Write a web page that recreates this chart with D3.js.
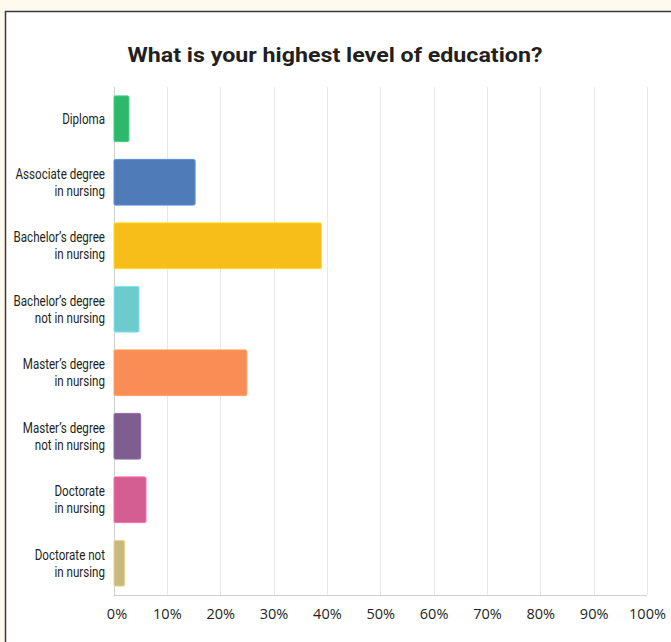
<!DOCTYPE html>
<html>
<head>
<meta charset="utf-8">
<script src="https://cdn.jsdelivr.net/npm/d3@7"></script>
<style>
  html, body { margin: 0; padding: 0; background: #fff9ee; }
  svg { display: block; }
</style>
</head>
<body>
<svg id="chart" width="671" height="642"></svg>
<script>
const categories = [
  ["Diploma"],
  ["Associate degree", "in nursing"],
  ["Bachelor\u2019s degree", "in nursing"],
  ["Bachelor\u2019s degree", "not in nursing"],
  ["Master\u2019s degree", "in nursing"],
  ["Master\u2019s degree", "not in nursing"],
  ["Doctorate", "in nursing"],
  ["Doctorate not", "in nursing"]
];
const values = [2.8, 15.2, 38.9, 4.7, 24.9, 5.0, 6.0, 2.0];
const colors = ["#2eb86c", "#4f7cb8", "#f7be19", "#6ecbcd", "#f98d55", "#7e5e91", "#d45e91", "#c9b97c"];
const tickValues = [0, 10, 20, 30, 40, 50, 60, 70, 80, 90, 100];
const title = "What is your highest level of education?";

const svg = d3.select("#chart");

// panel
svg.append("rect")
  .attr("x", 5.5).attr("y", 11.5)
  .attr("width", 700).attr("height", 700)
  .attr("fill", "#ffffff")
  .attr("stroke", "#3a3a3a")
  .attr("stroke-width", 1.5);

svg.append("text")
  .attr("x", 335).attr("y", 62)
  .attr("text-anchor", "middle")
  .attr("font-family", "Roboto, 'Liberation Sans', sans-serif")
  .attr("font-weight", "bold")
  .attr("font-size", 20)
  .attr("fill", "#231f20")
  .attr("textLength", 415)
  .attr("lengthAdjust", "spacingAndGlyphs")
  .text(title);

const x = d3.scaleLinear().domain([0, 100]).range([113.5, 647]);
const idx = d3.range(categories.length);
const y = d3.scaleBand().domain(idx).range([87, 595]).paddingInner(0.28).paddingOuter(0.14);

// gridlines
svg.append("g")
  .selectAll("line")
  .data(tickValues)
  .join("line")
  .attr("x1", d => Math.round(x(d)) + 0.5)
  .attr("x2", d => Math.round(x(d)) + 0.5)
  .attr("y1", 87).attr("y2", 595)
  .attr("stroke", d => d === 0 ? "#cfcfcf" : "#e8e8e8")
  .attr("stroke-width", 1);

// bottom axis line
svg.append("line")
  .attr("x1", x(0)).attr("x2", x(100))
  .attr("y1", 595.5).attr("y2", 595.5)
  .attr("stroke", "#cfcfcf");

// bars
svg.append("g")
  .selectAll("rect")
  .data(idx)
  .join("rect")
  .attr("x", x(0) + 0.5)
  .attr("y", i => y(i))
  .attr("width", i => x(values[i]) - x(0))
  .attr("height", y.bandwidth())
  .attr("rx", 1.5)
  .attr("fill", i => colors[i])
  .attr("stroke", i => d3.color(colors[i]).brighter(0.4))
  .attr("stroke-width", 1);

// category labels (condensed by horizontal scaling)
const lab = svg.append("g")
  .attr("font-family", "Roboto, 'Liberation Sans', sans-serif")
  .attr("font-size", 14.5)
  .attr("fill", "#231f20")
  .attr("text-anchor", "end");

idx.forEach(i => {
  const lines = categories[i];
  const cy = y(i) + y.bandwidth() / 2;
  const lh = 17;
  const g = lab.append("g").attr("transform", `translate(105,${cy}) scale(0.8,1)`);
  lines.forEach((l, k) => {
    g.append("text")
      .attr("x", 0)
      .attr("y", -(lines.length - 1) * lh / 2 + k * lh)
      .attr("dy", "0.35em")
      .text(l);
  });
});

// x axis
const xAxis = d3.axisBottom(x).tickValues(tickValues).tickFormat(d => d + "%").tickSize(0).tickPadding(12);
const gx = svg.append("g").attr("transform", "translate(0,597)").call(xAxis);
gx.select(".domain").remove();
gx.selectAll("text")
  .attr("font-family", "'Open Sans', 'Liberation Sans', sans-serif")
  .attr("font-size", 14.5)
  .attr("fill", "#231f20");
gx.selectAll(".tick").filter(d => d === 0).select("text").attr("dx", 3);
</script>
</body>
</html>
